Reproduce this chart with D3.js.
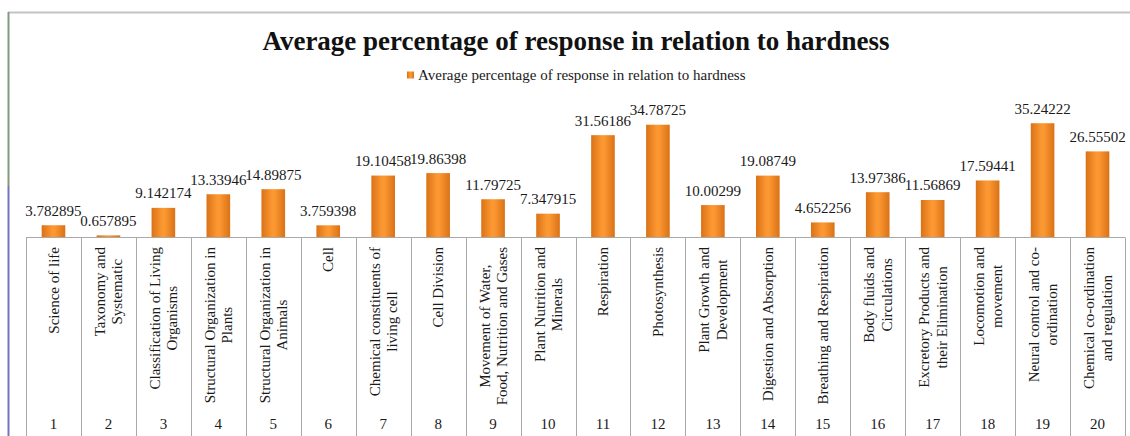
<!DOCTYPE html>
<html>
<head>
<meta charset="utf-8">
<script src="https://cdn.jsdelivr.net/npm/d3@7"></script>
<style>
  html, body { margin: 0; padding: 0; background: #fff; }
  svg { display: block; }
</style>
</head>
<body>
<svg id="chart" width="1130" height="436"></svg>
<script>
// Topic numbers, topic names (line breaks as printed) and average response percentages
const topicNumbers = [1, 2, 3, 4, 5, 6, 7, 8, 9, 10, 11, 12, 13, 14, 15, 16, 17, 18, 19, 20];
const topicNames = [
  ["Science of life"],
  ["Taxonomy and", "Systematic"],
  ["Classification of Living", "Organisms"],
  ["Structural Organization in", "Plants"],
  ["Structural Organization in", "Animals"],
  ["Cell"],
  ["Chemical constituents of", "living cell"],
  ["Cell Division"],
  ["Movement of Water,", "Food, Nutrition and Gases"],
  ["Plant Nutrition and", "Minerals"],
  ["Respiration"],
  ["Photosynthesis"],
  ["Plant Growth and", "Development"],
  ["Digestion and Absorption"],
  ["Breathing and Respiration"],
  ["Body fluids and", "Circulations"],
  ["Excretory Products and", "their Elimination"],
  ["Locomotion and", "movement"],
  ["Neural control and co-", "ordination"],
  ["Chemical co-ordination", "and regulation"]
];
const averageResponse = [
  3.782895, 0.657895, 9.142174, 13.33946, 14.89875, 3.759398, 19.10458, 19.86398,
  11.79725, 7.347915, 31.56186, 34.78725, 10.00299, 19.08749, 4.652256, 13.97386,
  11.56869, 17.59441, 35.24222, 26.55502
];
const seriesName = "Average percentage of response in relation to hardness";
const chartTitle = "Average percentage of response in relation to hardness";

const serif = "'Liberation Serif', 'Times New Roman', serif";
const svg = d3.select("#chart");
const textColor = "#1a1a1a";
const gridColor = "#a9a9a9";

// Frame edges of the chart area
svg.append("line").attr("x1", 8).attr("x2", 1130).attr("y1", 12.5).attr("y2", 12.5)
  .attr("stroke", "#c4c4c4").attr("stroke-width", 2);
svg.append("line").attr("x1", 8.5).attr("x2", 8.5).attr("y1", 12).attr("y2", 186)
  .attr("stroke", "#809a80").attr("stroke-width", 2);
svg.append("line").attr("x1", 8.5).attr("x2", 8.5).attr("y1", 186).attr("y2", 436)
  .attr("stroke", "#7474bc").attr("stroke-width", 2);

// Scales
const baseY = 237.5;
const x = d3.scaleBand().domain(topicNumbers).range([26, 1125]).padding(0);
const y = d3.scaleLinear().domain([0, 40]).range([baseY, 107.8]);
const barW = x.bandwidth() * 0.43;

// Bar fill: orange with darker sides
const defs = svg.append("defs");
const grad = defs.append("linearGradient").attr("id", "barFill")
  .attr("x1", "0%").attr("x2", "100%").attr("y1", "0%").attr("y2", "0%");
grad.append("stop").attr("offset", "0%").attr("stop-color", "#da7216");
grad.append("stop").attr("offset", "45%").attr("stop-color", "#fc9832");
grad.append("stop").attr("offset", "55%").attr("stop-color", "#fc9832");
grad.append("stop").attr("offset", "100%").attr("stop-color", "#da7216");

// Title
svg.append("text")
  .attr("x", 576).attr("y", 50)
  .attr("text-anchor", "middle")
  .style("font-family", serif)
  .style("font-size", "27px").style("font-weight", "bold")
  .attr("fill", "#111")
  .text(chartTitle);

// Legend
const legend = svg.append("g").attr("transform", "translate(407,70)");
legend.append("rect").attr("x", 0).attr("y", 1.5).attr("width", 7).attr("height", 7)
  .attr("fill", "url(#barFill)");
legend.append("text").attr("x", 11).attr("y", 9.5)
  .style("font-family", serif)
  .style("font-size", "15px").attr("fill", textColor)
  .text(seriesName);

// Bars
const data = topicNumbers.map((n, i) => ({ n, names: topicNames[i], v: averageResponse[i] }));

svg.append("g").selectAll("rect").data(data).join("rect")
  .attr("x", d => x(d.n) + (x.bandwidth() - barW) / 2)
  .attr("y", d => y(d.v))
  .attr("width", barW)
  .attr("height", d => y(0) - y(d.v))
  .attr("fill", "url(#barFill)");

// Value labels
svg.append("g").selectAll("text").data(data).join("text")
  .attr("x", d => x(d.n) + x.bandwidth() / 2)
  .attr("y", d => y(d.v) - 9.5)
  .attr("text-anchor", "middle")
  .style("font-family", serif)
  .style("font-size", "15px").attr("fill", textColor)
  .text(d => String(d.v));

// Category table: axis line and column separators
const table = svg.append("g");
table.append("line").attr("x1", 26).attr("x2", 1125).attr("y1", baseY).attr("y2", baseY)
  .attr("stroke", gridColor).attr("stroke-width", 1);
table.selectAll("line.sep").data(d3.range(topicNumbers.length + 1)).join("line")
  .attr("class", "sep")
  .attr("x1", i => Math.round(26 + i * x.bandwidth()) + 0.5)
  .attr("x2", i => Math.round(26 + i * x.bandwidth()) + 0.5)
  .attr("y1", baseY).attr("y2", 436)
  .attr("stroke", gridColor).attr("stroke-width", 1);

// Rotated topic names, block top-aligned under the axis
const nameGroups = table.selectAll("g.name").data(data).join("g")
  .attr("class", "name")
  .attr("transform", d => `translate(${x(d.n) + x.bandwidth() / 2},247) rotate(-90)`);

nameGroups.each(function(d) {
  const g = d3.select(this);
  const lines = d.names;
  const lh = 17.5;
  const texts = lines.map((ln, j) => g.append("text")
    .style("font-family", serif)
    .style("font-size", "15px").attr("fill", textColor)
    .attr("text-anchor", "middle")
    .attr("y", (j - (lines.length - 1) / 2) * lh)
    .attr("dy", "0.35em")
    .text(ln));
  const maxLen = d3.max(texts, t => t.node().getComputedTextLength());
  texts.forEach(t => t.attr("x", -maxLen / 2));
});

// Topic numbers along the bottom
table.selectAll("text.num").data(data).join("text")
  .attr("class", "num")
  .attr("x", d => x(d.n) + x.bandwidth() / 2)
  .attr("y", 429)
  .attr("text-anchor", "middle")
  .style("font-family", serif)
  .style("font-size", "15px").attr("fill", textColor)
  .text(d => d.n);
</script>
</body>
</html>
